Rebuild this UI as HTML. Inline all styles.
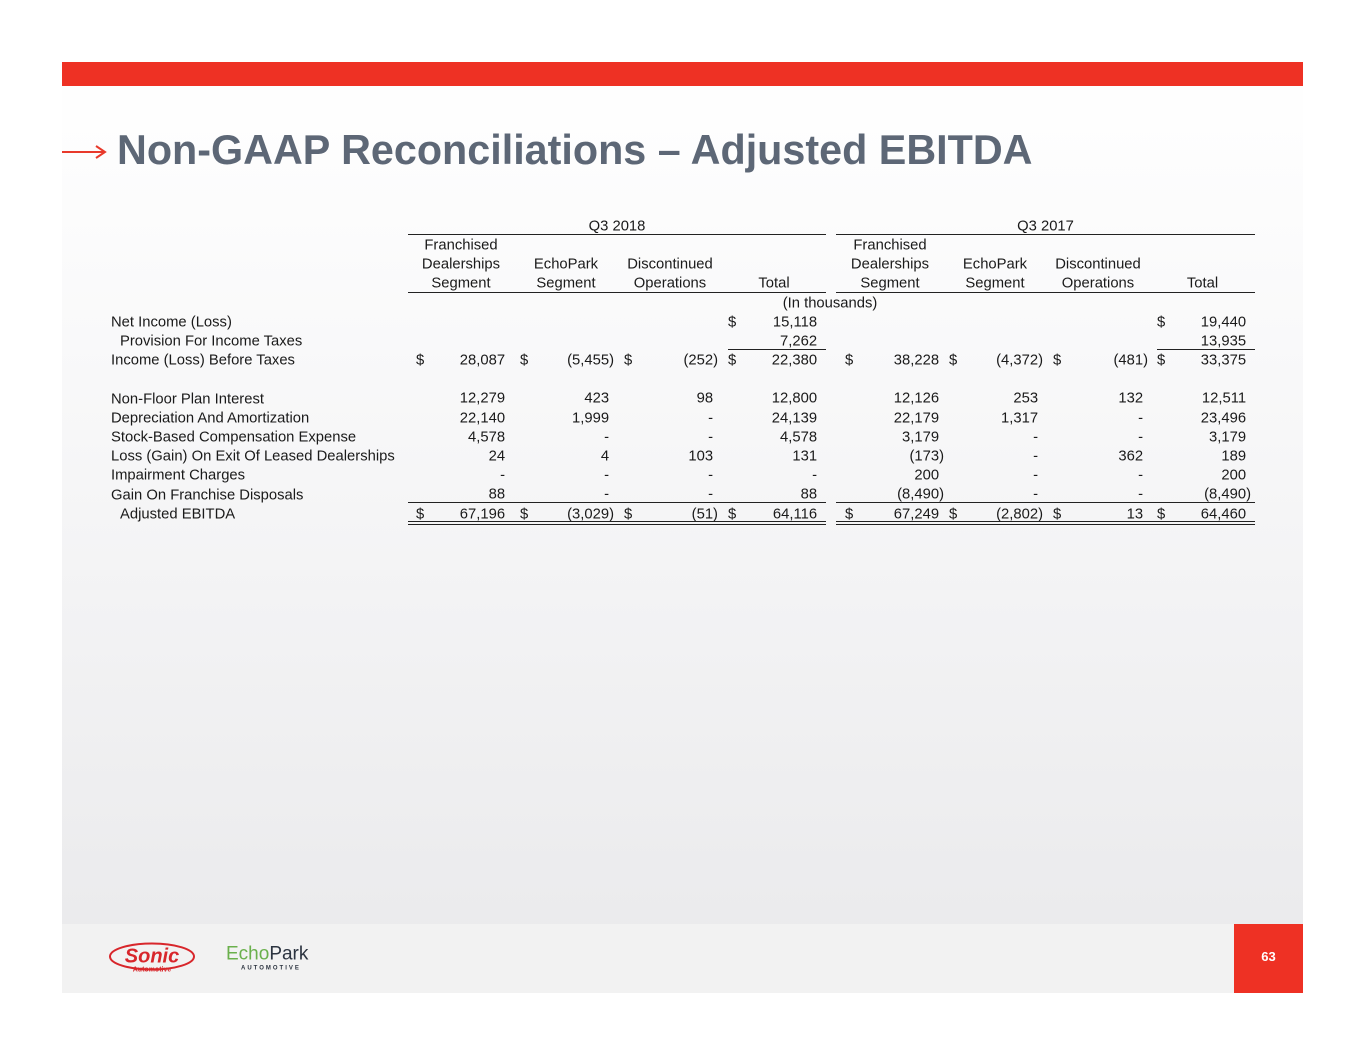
<!DOCTYPE html>
<html><head><meta charset="utf-8"><style>
*{margin:0;padding:0;box-sizing:border-box}
body{width:1365px;height:1055px;background:#fff;position:relative;overflow:hidden;font-family:"Liberation Sans",Arial,sans-serif;color:#1a1a1a}
#slide{position:absolute;left:62px;top:62px;width:1241px;height:931px;background:linear-gradient(#ffffff 0%,#f7f7f8 40%,#e9e9eb 100%)}
#bar{position:absolute;left:62px;top:62px;width:1241px;height:24px;background:#ee3124}
#foot{position:absolute;left:62px;top:924px;width:1241px;height:69px;background:#f2f2f2}
#pg{position:absolute;left:1234px;top:924px;width:69px;height:69px;background:#ee3124;color:#fff;font-weight:bold;font-size:13px;text-align:center;line-height:66px}
#title{position:absolute;left:117px;top:126px;font-size:41.3px;font-weight:bold;color:#5d6776;white-space:nowrap;line-height:48px}
#arrow{position:absolute;left:62px;top:144px}
.t{position:absolute;font-size:14.8px;line-height:19px;white-space:nowrap;transform:translateY(1.5px)}
.r{text-align:right}
.h{visibility:hidden}
.ln{position:absolute;height:1px;background:#222}
</style></head><body>
<div id="slide"></div>
<div id="bar"></div>
<svg id="arrow" width="46" height="16"><line x1="0" y1="8" x2="42" y2="8" stroke="#e8392b" stroke-width="2"/><polyline points="34,2 43,8 34,14" fill="none" stroke="#e8392b" stroke-width="2"/></svg>
<div id="title">Non-GAAP Reconciliations – Adjusted EBITDA</div>
<div id="foot"></div>
<div class="t" style="left:108px;top:938px;width:88px;height:36px">
<svg width="88" height="36"><ellipse cx="44" cy="17" rx="42" ry="13" fill="none" stroke="#d8262b" stroke-width="2"/><text x="44" y="23" font-family="Liberation Sans" font-weight="bold" font-style="italic" font-size="20" fill="#d8262b" text-anchor="middle">Sonic</text><text x="44" y="32" font-family="Liberation Sans" font-weight="bold" font-size="7" fill="#d8262b" text-anchor="middle">Automotive</text></svg></div>
<div class="t" style="left:226px;top:942px;font-size:19px;line-height:22px;color:#6ab04c">Echo<span style="color:#2c3440">Park</span></div>
<div class="t" style="left:241px;top:963px;font-size:6px;line-height:8px;letter-spacing:2px;color:#2c3440;font-weight:bold">AUTOMOTIVE</div>
<div id="pg">63</div>

<div class="t" style="left:408px;width:418px;top:216px;text-align:center">Q3 2018</div>
<div class="t" style="left:836px;width:419px;top:216px;text-align:center">Q3 2017</div>
<div class="ln" style="left:408px;width:418px;top:234px"></div>
<div class="ln" style="left:836px;width:419px;top:234px"></div>
<div class="t" style="left:408px;width:106px;top:235px;text-align:center">Franchised<br>Dealerships<br>Segment</div>
<div class="t" style="left:514px;width:104px;top:254px;text-align:center">EchoPark<br>Segment</div>
<div class="t" style="left:618px;width:104px;top:254px;text-align:center">Discontinued<br>Operations</div>
<div class="t" style="left:722px;width:104px;top:273px;text-align:center">Total</div>
<div class="t" style="left:836px;width:108px;top:235px;text-align:center">Franchised<br>Dealerships<br>Segment</div>
<div class="t" style="left:944px;width:102px;top:254px;text-align:center">EchoPark<br>Segment</div>
<div class="t" style="left:1046px;width:104px;top:254px;text-align:center">Discontinued<br>Operations</div>
<div class="t" style="left:1150px;width:105px;top:273px;text-align:center">Total</div>
<div class="ln" style="left:408px;width:418px;top:292px"></div>
<div class="ln" style="left:836px;width:419px;top:292px"></div>
<div class="t" style="left:700px;width:260px;top:293px;text-align:center">(In thousands)</div>

<div class="t" style="left:111px;top:312px">Net Income (Loss)</div>
<div class="t" style="left:120px;top:331px">Provision For Income Taxes</div>
<div class="t" style="left:111px;top:350px">Income (Loss) Before Taxes</div>
<div class="t" style="left:111px;top:389px">Non-Floor Plan Interest</div>
<div class="t" style="left:111px;top:408px">Depreciation And Amortization</div>
<div class="t" style="left:111px;top:427px">Stock-Based Compensation Expense</div>
<div class="t" style="left:111px;top:446px">Loss (Gain) On Exit Of Leased Dealerships</div>
<div class="t" style="left:111px;top:465px">Impairment Charges</div>
<div class="t" style="left:111px;top:485px">Gain On Franchise Disposals</div>
<div class="t" style="left:120px;top:504px">Adjusted EBITDA</div>

<div class="t" style="left:728px;top:312px">$</div>
<div class="t r" style="right:543px;top:312px">15,118<span class="h">)</span></div>
<div class="t r" style="right:543px;top:331px">7,262<span class="h">)</span></div>
<div class="t" style="left:1157px;top:312px">$</div>
<div class="t r" style="right:114px;top:312px">19,440<span class="h">)</span></div>
<div class="t r" style="right:114px;top:331px">13,935<span class="h">)</span></div>
<div class="ln" style="left:728px;width:98px;top:349px"></div>
<div class="ln" style="left:1157px;width:98px;top:349px"></div>

<div class="t" style="left:416px;top:350px">$</div><div class="t" style="left:520px;top:350px">$</div><div class="t" style="left:624px;top:350px">$</div><div class="t" style="left:728px;top:350px">$</div>
<div class="t" style="left:845px;top:350px">$</div><div class="t" style="left:949px;top:350px">$</div><div class="t" style="left:1053px;top:350px">$</div><div class="t" style="left:1157px;top:350px">$</div>
<div class="t" style="left:416px;top:504px">$</div><div class="t" style="left:520px;top:504px">$</div><div class="t" style="left:624px;top:504px">$</div><div class="t" style="left:728px;top:504px">$</div>
<div class="t" style="left:845px;top:504px">$</div><div class="t" style="left:949px;top:504px">$</div><div class="t" style="left:1053px;top:504px">$</div><div class="t" style="left:1157px;top:504px">$</div>

<div class="t r" style="right:855px;top:350px;line-height:19.2px">28,087<span class="h">)</span><br><br>12,279<span class="h">)</span><br>22,140<span class="h">)</span><br>4,578<span class="h">)</span><br>24<span class="h">)</span><br>-<span class="h">)</span><br>88<span class="h">)</span><br>67,196<span class="h">)</span></div>
<div class="t r" style="right:751px;top:350px;line-height:19.2px">(5,455)<br><br>423<span class="h">)</span><br>1,999<span class="h">)</span><br>-<span class="h">)</span><br>4<span class="h">)</span><br>-<span class="h">)</span><br>-<span class="h">)</span><br>(3,029)</div>
<div class="t r" style="right:647px;top:350px;line-height:19.2px">(252)<br><br>98<span class="h">)</span><br>-<span class="h">)</span><br>-<span class="h">)</span><br>103<span class="h">)</span><br>-<span class="h">)</span><br>-<span class="h">)</span><br>(51)</div>
<div class="t r" style="right:543px;top:350px;line-height:19.2px">22,380<span class="h">)</span><br><br>12,800<span class="h">)</span><br>24,139<span class="h">)</span><br>4,578<span class="h">)</span><br>131<span class="h">)</span><br>-<span class="h">)</span><br>88<span class="h">)</span><br>64,116<span class="h">)</span></div>
<div class="t r" style="right:421px;top:350px;line-height:19.2px">38,228<span class="h">)</span><br><br>12,126<span class="h">)</span><br>22,179<span class="h">)</span><br>3,179<span class="h">)</span><br>(173)<br>200<span class="h">)</span><br>(8,490)<br>67,249<span class="h">)</span></div>
<div class="t r" style="right:322px;top:350px;line-height:19.2px">(4,372)<br><br>253<span class="h">)</span><br>1,317<span class="h">)</span><br>-<span class="h">)</span><br>-<span class="h">)</span><br>-<span class="h">)</span><br>-<span class="h">)</span><br>(2,802)</div>
<div class="t r" style="right:217px;top:350px;line-height:19.2px">(481)<br><br>132<span class="h">)</span><br>-<span class="h">)</span><br>-<span class="h">)</span><br>362<span class="h">)</span><br>-<span class="h">)</span><br>-<span class="h">)</span><br>13<span class="h">)</span></div>
<div class="t r" style="right:114px;top:350px;line-height:19.2px">33,375<span class="h">)</span><br><br>12,511<span class="h">)</span><br>23,496<span class="h">)</span><br>3,179<span class="h">)</span><br>189<span class="h">)</span><br>200<span class="h">)</span><br>(8,490)<br>64,460<span class="h">)</span></div>

<div class="ln" style="left:408px;width:418px;top:502px"></div>
<div class="ln" style="left:836px;width:419px;top:502px"></div>
<div class="ln" style="left:408px;width:418px;top:521px"></div>
<div class="ln" style="left:836px;width:419px;top:521px"></div>
<div class="ln" style="left:408px;width:418px;top:524px"></div>
<div class="ln" style="left:836px;width:419px;top:524px"></div>
</body></html>
